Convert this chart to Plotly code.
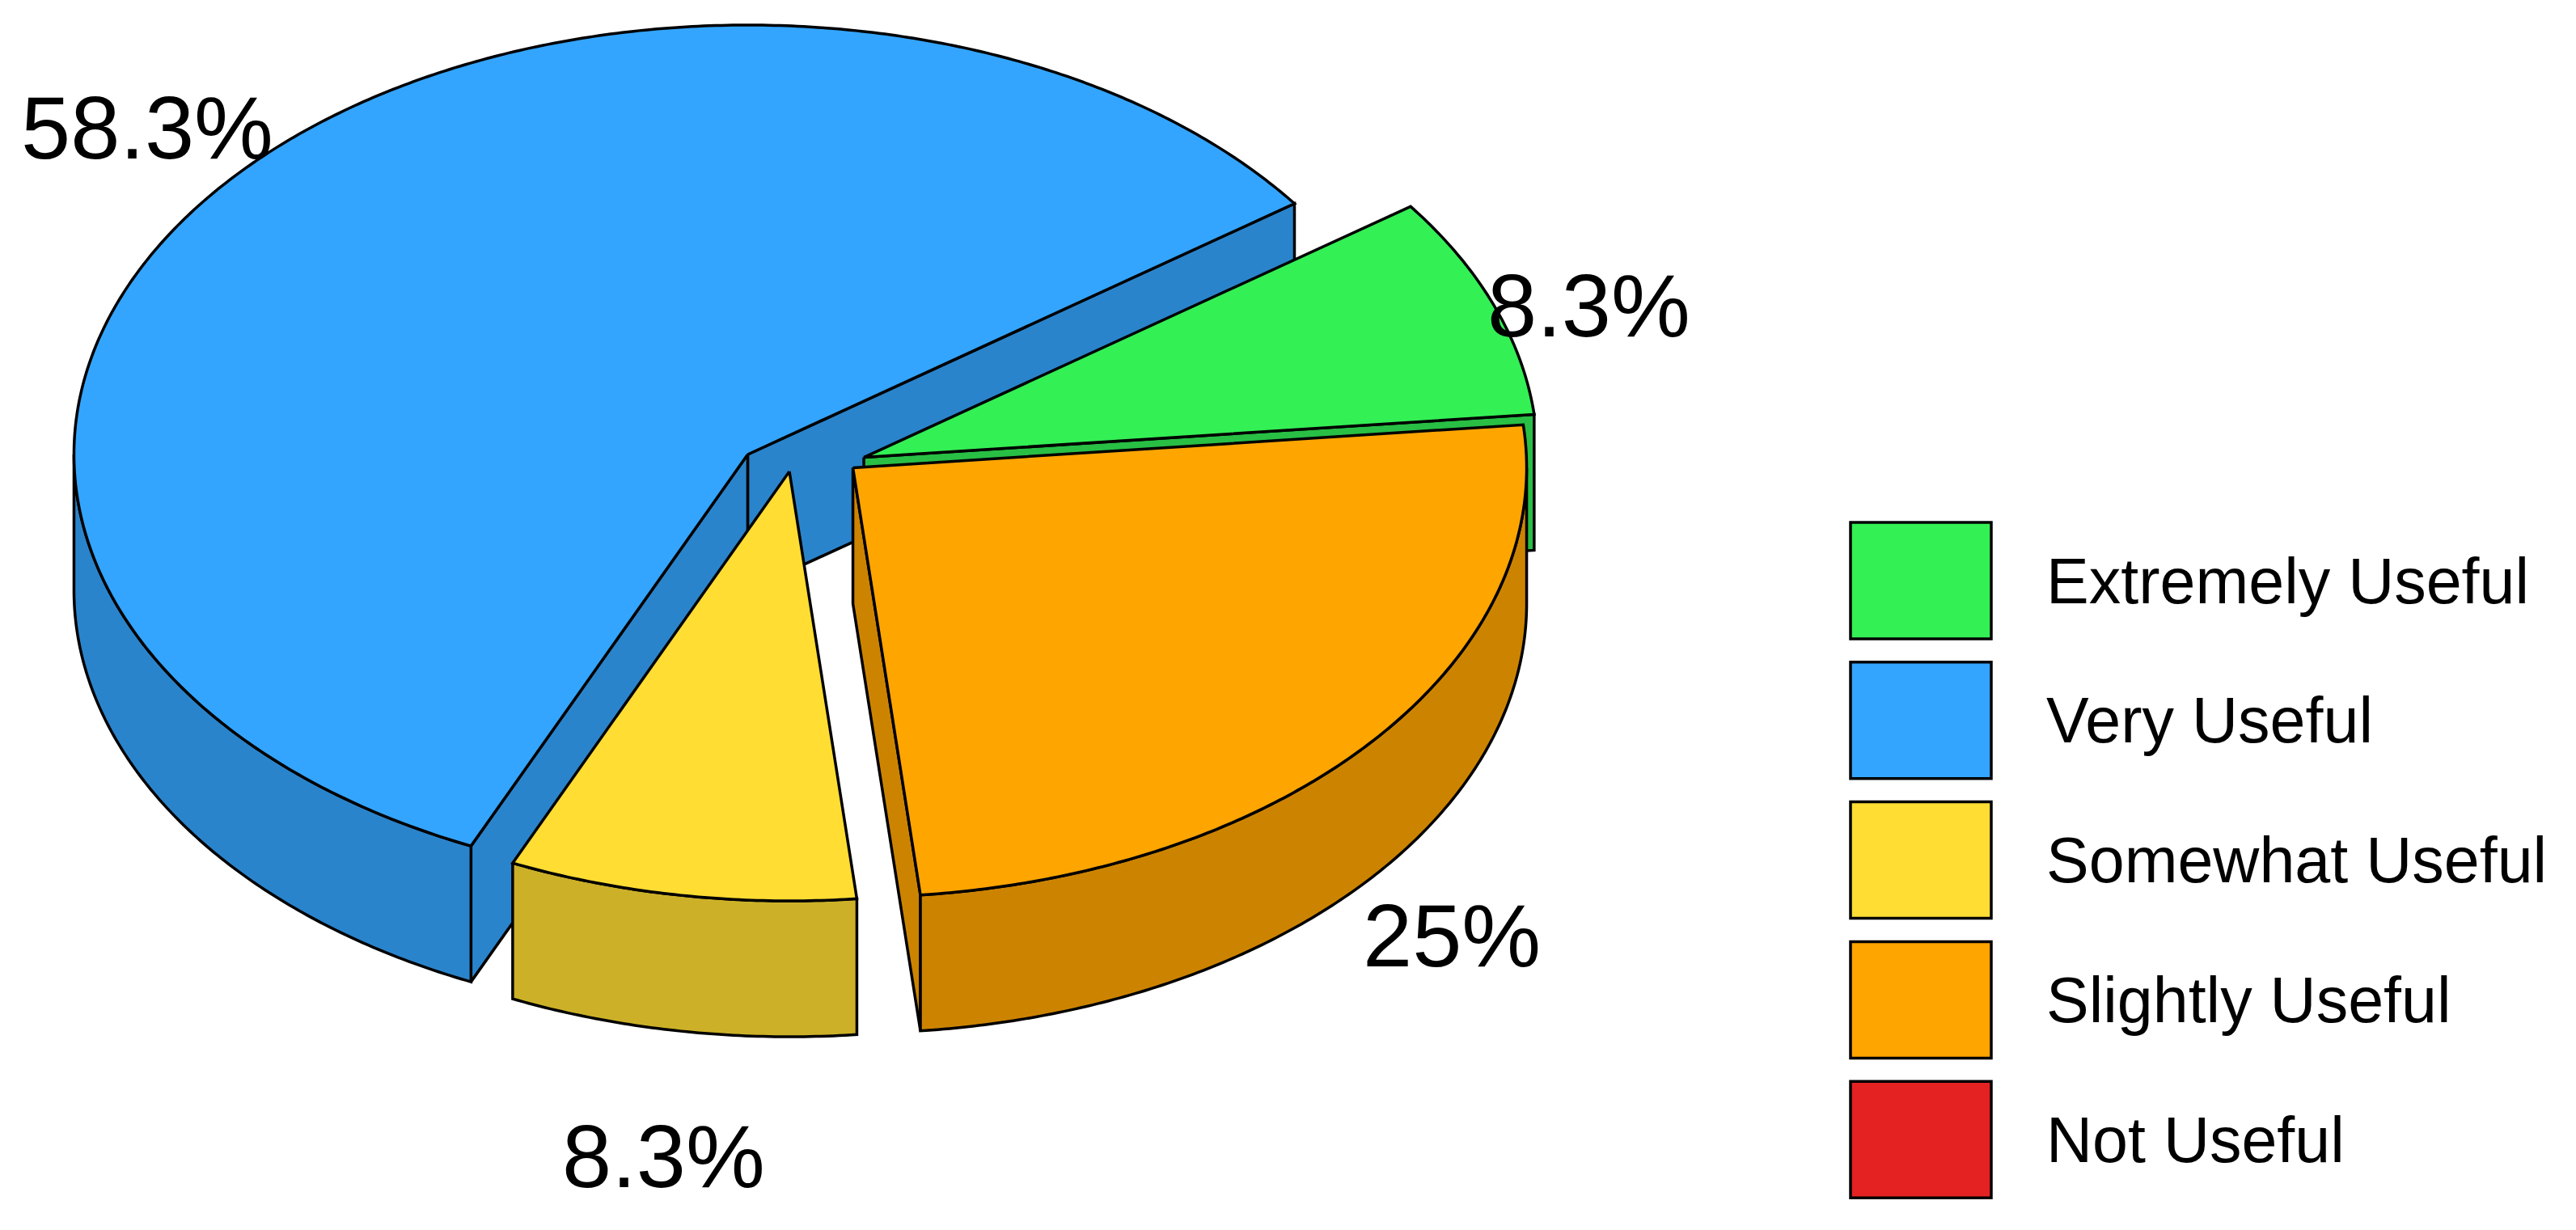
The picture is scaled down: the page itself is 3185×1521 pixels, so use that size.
import numpy as np
import plotly.graph_objects as go

categorias = ["Extremely Useful", "Very Useful", "Somewhat Useful", "Slightly Useful", "Not Useful"]
respostas = [1, 7, 1, 3, 0]
cores = ["#33F055", "#33A5FF", "#FFDD33", "#FFA500", "#E52222"]
cores_lado = ["#28BF44", "#2A84CC", "#CCB128", "#CC8400", "#B71B1B"]

# geometria da pizza, em pixels da imagem
LARGURA, ALTURA = 3185, 1521
CX, CY = 989.5, 570.2
RX, RY = 833, 531
EXPLODE_X, EXPLODE_Y = 84, 13
ESPESSURA = 168
ANGULO_INICIAL = 5.75
ORDEM_DESENHO = [1, 0, 2, 3]
POS_ROTULOS = {0: (1964, 377), 1: (182, 157), 2: (820, 1429), 3: (1795, 1156)}

PRETO = "#000000"
TRACO = 3.5


def arco(cx, cy, a0, a1, desloc=0.0):
    passos = max(2, int(abs(a1 - a0) * 2) + 1)
    ang = np.radians(np.linspace(a0, a1, passos))
    return cx + RX * np.cos(ang), cy - RY * np.sin(ang) + desloc


def poligono(fig, xs, ys, cor):
    xs = list(xs) + [xs[0]]
    ys = list(ys) + [ys[0]]
    fig.add_trace(go.Scatter(
        x=xs, y=ys, mode="lines", fill="toself", fillcolor=cor,
        line=dict(color=PRETO, width=TRACO, simplify=False),
        hoverinfo="skip", showlegend=False,
    ))


def parede_reta(fig, cx, cy, ang, cor):
    a = np.radians(ang)
    xb, yb = cx + RX * np.cos(a), cy - RY * np.sin(a)
    poligono(fig, [cx, xb, xb, cx], [cy, yb, yb + ESPESSURA, cy + ESPESSURA], cor)


def parede_externa(fig, cx, cy, a0, a1, cor):
    # so a parte da frente da borda aparece (180 a 360 graus)
    ini, fim = max(a0, 180), min(a1, 360)
    if fim <= ini:
        return
    x_top, y_top = arco(cx, cy, ini, fim)
    x_bot, y_bot = arco(cx, cy, fim, ini, ESPESSURA)
    poligono(fig, np.concatenate([x_top, x_bot]), np.concatenate([y_top, y_bot]), cor)


def desenhar_fatia(fig, i, a0, a1):
    meio = np.radians((a0 + a1) / 2)
    cx = CX + EXPLODE_X * np.cos(meio)
    cy = CY - EXPLODE_Y * np.sin(meio)
    if np.cos(np.radians(a0)) > 0:
        parede_reta(fig, cx, cy, a0, cores_lado[i])
    if np.cos(np.radians(a1)) < 0:
        parede_reta(fig, cx, cy, a1, cores_lado[i])
    parede_externa(fig, cx, cy, a0, a1, cores_lado[i])
    x_arco, y_arco = arco(cx, cy, a0, a1)
    poligono(fig, [cx] + list(x_arco), [cy] + list(y_arco), cores[i])


fig = go.Figure()

total = sum(respostas)
limites = ANGULO_INICIAL + np.concatenate([[0], np.cumsum(respostas)]) / total * 360

for i in ORDEM_DESENHO:
    desenhar_fatia(fig, i, limites[i], limites[i + 1])

for i, (x, y) in POS_ROTULOS.items():
    fig.add_annotation(
        x=x, y=y, text=f"{respostas[i] / total * 100:.1f}".removesuffix(".0") + "%",
        showarrow=False, xanchor="center", yanchor="middle",
        font=dict(family="Liberation Sans", size=110, color=PRETO),
    )

# legenda
for k, nome in enumerate(categorias):
    topo = 646 + k * 172.8
    fig.add_shape(
        type="rect", x0=2288, x1=2462, y0=topo, y1=topo + 144,
        fillcolor=cores[k], line=dict(color=PRETO, width=TRACO),
    )
    fig.add_annotation(
        x=2528, y=topo + 72, text=nome, showarrow=False, xanchor="left", yanchor="middle",
        font=dict(family="Liberation Sans", size=79, color=PRETO),
    )

fig.update_layout(
    width=LARGURA,
    height=ALTURA,
    margin=dict(l=0, r=0, t=0, b=0),
    xaxis=dict(visible=False, range=[0, LARGURA], fixedrange=True),
    yaxis=dict(visible=False, range=[ALTURA, 0], fixedrange=True),
    plot_bgcolor="white",
    paper_bgcolor="white",
    showlegend=False,
)

fig.write_html(
    "out.html",
    config={"displayModeBar": False},
    post_script="document.body.style.margin='0';document.body.style.overflow='hidden';",
)
